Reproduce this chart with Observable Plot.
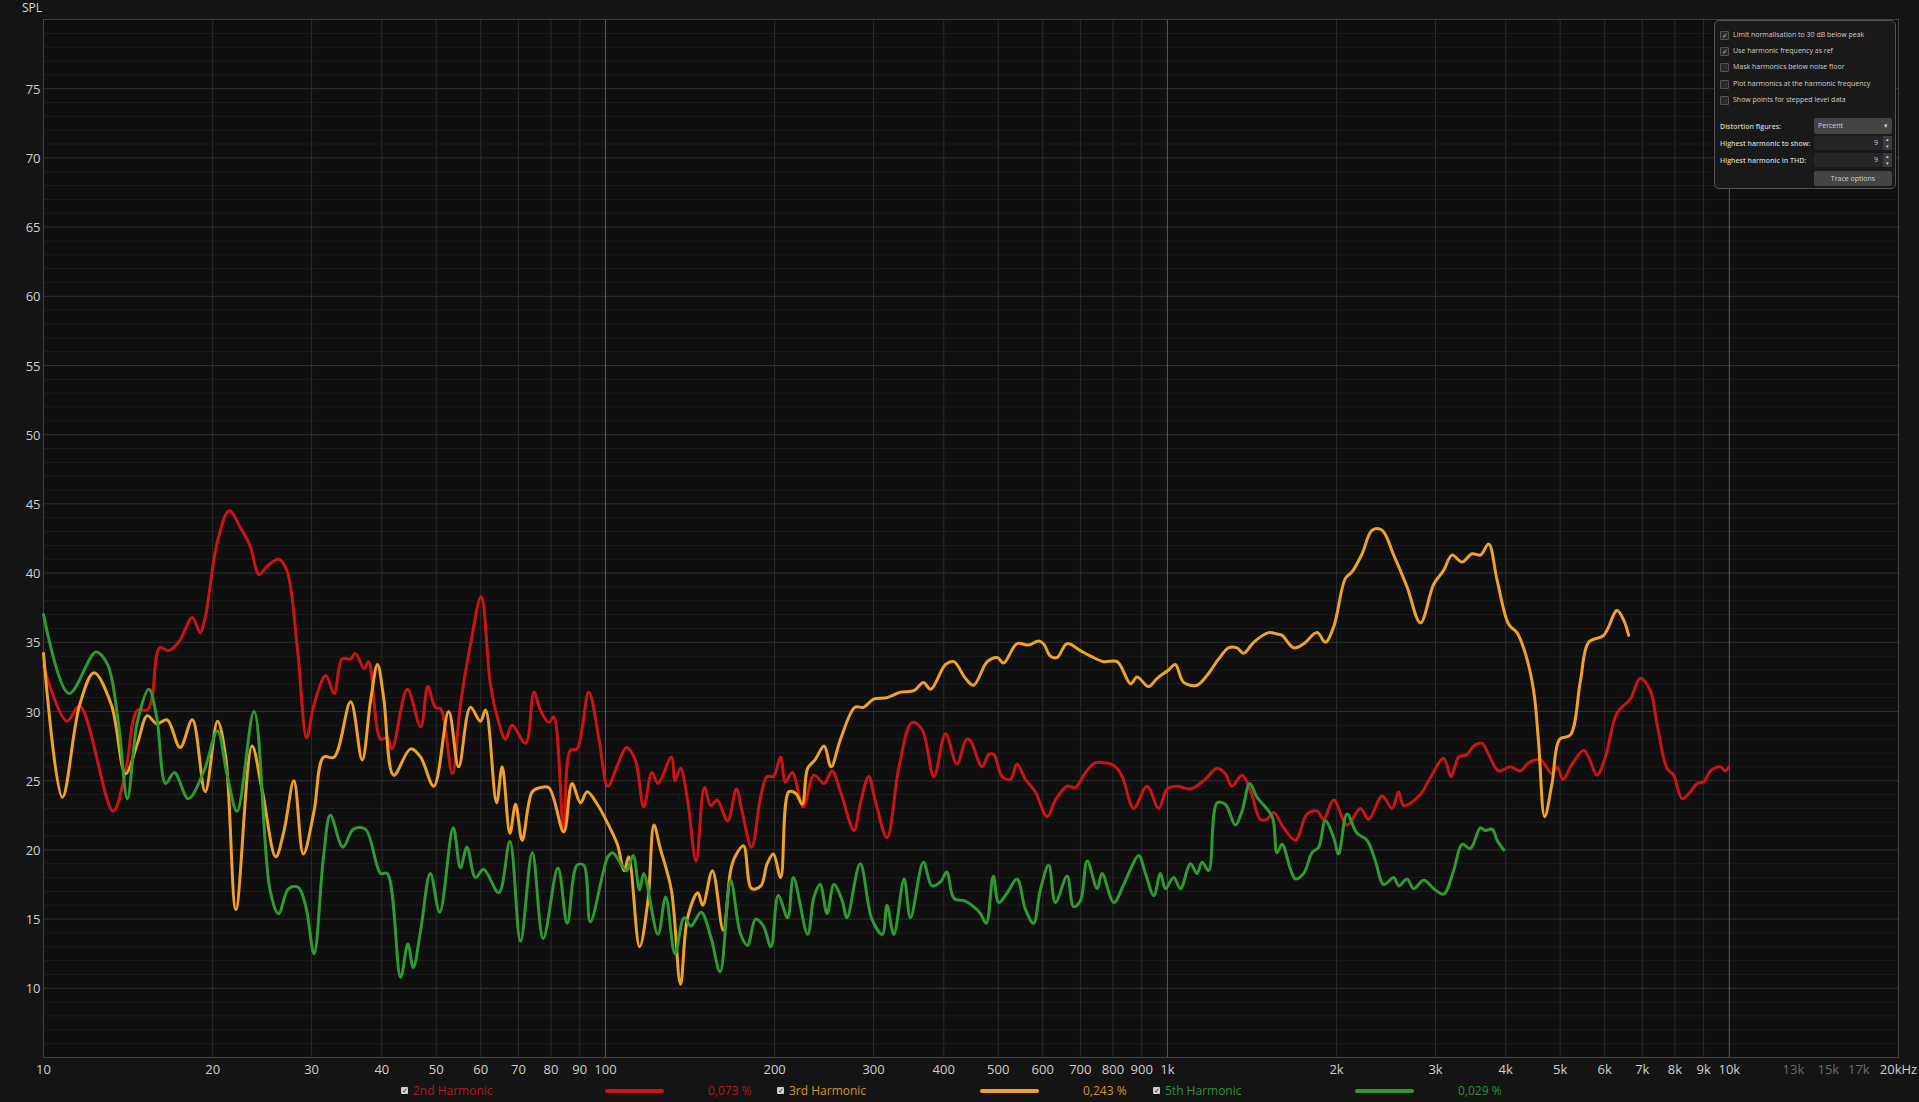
<!DOCTYPE html>
<html><head><meta charset="utf-8">
<script src="https://cdn.jsdelivr.net/npm/d3@7"></script>
<script src="https://cdn.jsdelivr.net/npm/@observablehq/plot@0.6"></script>
<style>
html,body{margin:0;padding:0;background:#141414;}
body{width:1919px;height:1102px;overflow:hidden;position:relative;font-family:"Open Sans","Noto Sans",sans-serif;}
#chart{position:absolute;left:0;top:0;}
#chart svg{display:block;}
#spl{position:absolute;left:22px;top:-1px;font-size:12px;color:#d8d8d8;}
.lg{position:absolute;top:1083px;font-size:12px;line-height:16px;white-space:nowrap;}
.cbx{position:absolute;top:1087px;width:7px;height:7px;background:#cfcfcf;border-radius:1px;font-size:7px;line-height:7px;color:#222;text-align:center;}
.sw{position:absolute;top:1089px;height:4px;border-radius:2px;}
#panel{position:absolute;left:1714px;top:20px;width:180px;height:167px;background:#191919;border:1px solid #555;border-radius:5px;font-size:7px;color:#cfcfcf;}
#panel .row{position:absolute;left:18px;height:10px;line-height:10px;white-space:nowrap;}
#panel .cb{position:absolute;left:-13px;top:1px;width:7px;height:7px;border:1px solid #555;background:#2a2a2a;border-radius:1px;font-size:7px;line-height:7px;color:#bbb;text-align:center;}
#panel .lab{position:absolute;left:5px;height:10px;line-height:10px;white-space:nowrap;font-weight:600;}
#panel .box{position:absolute;left:99px;width:78px;background:#252525;border-radius:2px;}
#panel .dd{background:#444;}
#panel .btn{background:#444;text-align:center;}
</style></head><body>
<div id="chart"></div>
<div id="spl">SPL</div>
<div id="legend"></div>
<div id="panel"></div>
<script>
// ---- data: [frequency Hz, SPL dB] ----
const h2 = [[10,33.3],[11.0,29.3],[11.6,30.4],[13.3,22.8],[14.0,25.7],[14.7,30.1],[15.3,30.1],[15.6,31.0],[16.1,34.6],[16.7,34.4],[17.4,35.0],[18.4,36.8],[19.0,35.7],[19.4,36.8],[20.4,42.3],[21.4,44.5],[22.4,43.3],[23.3,42.0],[24.2,39.9],[25.0,40.5],[26.2,41.0],[27.1,40.2],[28.3,34.6],[29.4,28.1],[30.3,30.5],[31.8,32.6],[32.9,31.3],[34.0,33.8],[35.2,33.8],[35.9,34.2],[37.2,33.1],[37.9,33.6],[39.8,28.0],[40.9,28.1],[41.7,27.3],[44.4,31.6],[46.9,28.9],[48.3,31.8],[49.8,30.3],[50.9,30.2],[53.4,25.5],[55.2,30.5],[57.5,34.8],[60.1,38.3],[62.4,32.0],[64.2,29.6],[66.4,28.0],[68.2,29.0],[72.1,27.7],[74.6,31.4],[76.6,30.1],[79.3,29.2],[80.9,29.6],[84.3,21.4],[86.6,27.2],[89.0,27.3],[93.4,31.4],[97.3,28.1],[101,24.6],[105,26.1],[109,27.4],[113,26.5],[117,23.1],[121,25.6],[124,24.8],[131,26.7],[133,25.0],[136,25.9],[140,23.6],[145,19.2],[150,24.5],[154,23.2],[158,23.6],[165,22.1],[171,24.4],[175,22.8],[182,20.2],[189,23.9],[194,25.3],[199,25.3],[205,26.7],[209,24.9],[215,25.6],[225,23.1],[235,25.4],[245,24.8],[253,25.7],[262,24.2],[277,21.4],[284,23.3],[294,25.3],[302,23.6],[317,20.9],[333,26.0],[351,29.2],[366,28.7],[384,25.3],[403,28.4],[422,26.2],[439,28.0],[446,27.9],[468,26.0],[481,26.9],[491,26.9],[508,25.3],[526,25.1],[540,26.2],[559,25.1],[582,24.2],[611,22.4],[632,23.6],[663,24.6],[686,24.5],[715,25.6],[745,26.3],[770,26.3],[803,26.1],[831,25.3],[871,23.0],[920,24.6],[965,23.0],[999,24.4],[1041,24.6],[1099,24.4],[1160,25.0],[1226,25.9],[1268,25.5],[1303,24.6],[1358,25.4],[1405,24.3],[1464,22.2],[1504,22.2],[1545,22.7],[1610,21.6],[1690,20.7],[1773,22.6],[1847,22.8],[1897,22.2],[1976,23.6],[2088,21.8],[2205,23.0],[2281,22.2],[2410,23.9],[2511,23.0],[2580,24.2],[2633,23.2],[2820,24.0],[2917,25.0],[3101,26.6],[3197,25.3],[3298,26.7],[3414,26.9],[3508,27.5],[3631,27.7],[3730,26.9],[3886,25.7],[4076,26.0],[4247,25.7],[4395,26.3],[4610,26.5],[4836,25.5],[4936,26.0],[5059,25.1],[5249,26.2],[5504,27.2],[5618,26.7],[5815,25.4],[6017,26.7],[6312,29.9],[6665,30.9],[6944,32.4],[7234,31.5],[7436,29.1],[7747,25.9],[7960,25.4],[8240,23.7],[8523,24.2],[8762,24.8],[9002,24.9],[9252,25.7],[9638,26.0],[9838,25.7],[9972,26.0]];
const h3 = [[10,34.2],[10.8,23.8],[11.6,30.5],[12.3,32.8],[13.2,30.5],[14.0,25.5],[14.7,27.7],[15.3,29.7],[15.9,29.1],[16.6,29.4],[17.5,27.4],[18.4,29.4],[19.4,24.2],[20.4,29.3],[21.1,26.7],[22.0,15.7],[23.5,27.5],[24.5,24.3],[25.9,19.5],[26.8,21.4],[27.9,25.0],[29.0,19.7],[30.3,22.8],[31.5,26.7],[32.9,26.7],[35.2,30.7],[36.9,26.5],[38.2,30.8],[39.3,33.4],[40.3,31.0],[42.0,25.4],[45.0,27.3],[46.9,26.7],[49.5,24.6],[52.6,30.0],[54.8,26.0],[57.5,30.3],[59.9,29.3],[61.2,30.1],[64.0,23.4],[65.5,26.0],[67.6,21.2],[69.2,23.3],[71.1,20.7],[74.1,24.2],[76.6,24.5],[79.3,24.5],[84.3,21.3],[87.2,24.8],[90.3,23.4],[92.8,24.2],[96.7,23.3],[101,21.9],[105,20.4],[108,18.5],[110,19.5],[115,13.0],[119,16.3],[122,21.8],[125,20.2],[131,17.1],[136,10.3],[140,15.1],[146,16.9],[149,16.0],[155,18.5],[162,14.2],[167,18.5],[170,19.5],[176,20.3],[182,17.2],[189,17.4],[194,19.0],[199,19.7],[205,18.0],[212,24.2],[218,24.1],[224,23.3],[229,25.9],[236,26.5],[245,27.5],[252,26.0],[262,28.0],[278,30.3],[288,30.3],[300,30.9],[317,31.0],[335,31.4],[354,31.5],[368,32.1],[379,31.6],[403,33.4],[417,33.6],[437,32.4],[452,31.9],[478,33.6],[498,33.9],[511,33.5],[540,34.9],[567,34.8],[590,35.1],[602,34.9],[619,34.0],[636,33.9],[663,34.9],[700,34.4],[730,34.0],[770,33.6],[814,33.6],[860,32.0],[883,32.5],[926,31.8],[959,32.4],[1005,33.0],[1033,33.4],[1069,32.1],[1129,31.9],[1176,32.6],[1234,33.8],[1285,34.6],[1330,34.6],[1367,34.2],[1424,35.0],[1514,35.7],[1567,35.6],[1600,35.5],[1678,34.6],[1748,34.9],[1847,35.7],[1910,35.0],[1976,36.1],[2073,39.6],[2132,40.1],[2221,41.4],[2314,43.1],[2410,43.1],[2528,41.3],[2670,39.0],[2820,36.4],[2978,39.2],[3101,40.2],[3210,41.3],[3345,40.8],[3485,41.4],[3606,41.3],[3730,42.1],[3861,39.5],[4049,36.3],[4190,35.7],[4335,34.2],[4485,31.5],[4578,27.7],[4692,22.4],[4836,24.8],[4989,28.0],[5213,28.3],[5432,32.2],[5618,35.0],[5975,35.5],[6312,37.3],[6486,36.6],[6620,35.5]];
const h5 = [[10,37.0],[11.1,31.3],[12.4,34.3],[13.0,33.4],[13.6,29.1],[14.1,23.7],[14.7,29.3],[15.4,31.6],[15.9,29.6],[16.5,24.8],[17.1,25.6],[18.1,23.7],[19.3,25.7],[20.4,28.6],[21.2,25.5],[22.1,22.8],[23.7,30.0],[25.3,17.1],[26.2,15.4],[27.3,17.2],[28.4,17.3],[29.3,15.9],[30.3,12.5],[31.5,19.5],[32.4,22.5],[34.1,20.2],[35.6,21.5],[37.4,21.5],[39.8,18.3],[40.9,18.3],[43.2,10.8],[44.5,13.2],[45.5,11.5],[46.9,14.2],[48.8,18.3],[50.7,15.5],[53.6,21.6],[55.2,18.7],[56.7,20.2],[58.7,18.0],[60.7,18.6],[64.6,16.9],[67.6,20.6],[70.6,13.4],[74.1,19.8],[77.5,13.6],[82.3,18.7],[85.5,14.7],[89.0,18.9],[91.5,18.9],[94.0,14.8],[101,19.5],[103,19.8],[109,18.5],[112,19.6],[115,17.1],[117,18.3],[124,13.9],[128,16.6],[133,12.5],[138,15.1],[142,14.5],[148,15.5],[154,13.7],[160,11.2],[167,17.8],[174,13.9],[179,13.1],[185,15.0],[191,14.5],[197,13.0],[203,16.7],[211,15.1],[216,18.0],[229,13.9],[235,16.6],[241,17.5],[248,15.4],[255,17.5],[264,16.3],[269,15.1],[284,19.0],[298,15.0],[311,13.9],[317,16.0],[326,13.9],[340,17.9],[349,15.1],[368,19.1],[381,17.4],[395,17.7],[405,18.4],[417,16.5],[437,16.3],[452,15.9],[465,15.4],[476,14.7],[490,18.1],[501,16.2],[519,16.9],[540,17.9],[559,15.7],[578,14.7],[594,17.1],[615,18.9],[632,16.2],[663,18.1],[681,15.9],[700,16.3],[720,19.2],[750,17.2],[765,18.3],[803,16.2],[836,17.5],[860,18.6],[889,19.6],[914,18.3],[946,16.7],[972,18.3],[992,17.2],[1026,18.0],[1055,17.2],[1099,19.0],[1129,18.3],[1153,19.1],[1184,18.5],[1226,23.4],[1268,23.3],[1321,21.8],[1358,22.8],[1401,24.8],[1444,23.8],[1536,22.4],[1567,19.8],[1600,20.4],[1656,18.6],[1690,17.9],[1748,18.3],[1809,19.8],[1859,20.2],[1910,22.1],[1976,20.9],[2017,19.7],[2088,22.6],[2175,21.2],[2266,20.7],[2345,19.2],[2426,17.5],[2528,18.0],[2580,17.4],[2670,17.9],[2743,17.2],[2858,17.8],[2978,17.2],[3101,16.8],[3231,18.5],[3345,20.4],[3460,20.1],[3606,21.6],[3681,21.4],[3784,21.5],[3861,20.7],[3967,20.0]];

const seriesNames = ["2nd Harmonic","3rd Harmonic","5th Harmonic"];
const seriesValues = ["0,073 %","0,243 %","0,029 %"];
const seriesColors = ["#cc1414","#eea22a","#2f9a2f"];
const labelColors = ["#b51a1a","#d49426","#2f932f"];

const xTickValues = [10,20,30,40,50,60,70,80,90,100,200,300,400,500,600,700,800,900,1000,2000,3000,4000,5000,6000,7000,8000,9000,10000,20000];
const xDimTickValues = [13000,15000,17000];
const yTickValues = [10,15,20,25,30,35,40,45,50,55,60,65,70,75];

const decadeLines = [100,1000,10000];
const freqGrid = [];
for (const base of [10,100,1000,10000]) for (let m = 1; m <= 9; m++) { const f = base*m; if (f > 10 && f < 20000 && !decadeLines.includes(f)) freqGrid.push(f); }
const minorDb = d3.range(6,80).filter(v => v % 5 !== 0);
const majorDb = d3.range(10,80,5);

const fmtF = f => f === 20000 ? "20kHz" : f >= 1000 ? (f/1000) + "k" : String(f);

const chart = Plot.plot({
  width: 1919, height: 1080,
  marginLeft: 43, marginRight: 21, marginTop: 19, marginBottom: 23,
  x: {type: "log", domain: [10, 20000], axis: null},
  y: {domain: [5, 80], axis: null},
  style: {background: "transparent", fontFamily: "'Open Sans','Noto Sans',sans-serif", overflow: "visible"},
  marks: [
    Plot.frame({fill: "#0f0f0f", stroke: null}),
    Plot.ruleY(minorDb, {stroke: "#1d1d1d"}),
    Plot.ruleY(majorDb, {stroke: "#303030"}),
    Plot.ruleX(freqGrid, {stroke: "#2b2b2b"}),
    Plot.ruleX(decadeLines, {stroke: "#5c5c5c"}),
    Plot.frame({stroke: "#404040"}),
    Plot.line(h2, {x: d => d[0], y: d => d[1], stroke: seriesColors[0], strokeWidth: 3, curve: "catmull-rom"}),
    Plot.line(h3, {x: d => d[0], y: d => d[1], stroke: seriesColors[1], strokeWidth: 3, curve: "catmull-rom"}),
    Plot.line(h5, {x: d => d[0], y: d => d[1], stroke: seriesColors[2], strokeWidth: 3, curve: "catmull-rom"}),
    Plot.text(yTickValues, {y: d => d, frameAnchor: "left", textAnchor: "end", dx: -3, dy: 1, text: d => String(d), fill: "#d0d0d0", fontSize: 13}),
    Plot.text(xTickValues, {x: d => d, frameAnchor: "bottom", dy: 16, text: fmtF, fill: "#d0d0d0", fontSize: 13}),
    Plot.text(xDimTickValues, {x: d => d, frameAnchor: "bottom", dy: 16, text: fmtF, fill: "#6a6a6a", fontSize: 13})
  ]
});
document.getElementById("chart").appendChild(chart);

// legend
const legend = document.getElementById("legend");
const cbLeft = [401, 777, 1153], txtLeft = [413, 789, 1165], swLeft = [605, 980, 1355], valLeft = [708, 1083, 1458];
seriesNames.forEach((n, i) => {
  legend.insertAdjacentHTML("beforeend",
    `<div class="cbx" style="left:${cbLeft[i]}px">✓</div>` +
    `<div class="lg" style="left:${txtLeft[i]}px;color:${labelColors[i]}">${n}</div>` +
    `<div class="sw" style="left:${swLeft[i]}px;width:59px;background:${seriesColors[i]}"></div>` +
    `<div class="lg" style="left:${valLeft[i]}px;color:${labelColors[i]}">${seriesValues[i]}</div>`);
});

// options panel
const panelChecks = [["Limit normalisation to 30 dB below peak", true],["Use harmonic frequency as ref", true],["Mask harmonics below noise floor", false],["Plot harmonics at the harmonic frequency", false],["Show points for stepped level data", false]];
const panel = document.getElementById("panel");
panelChecks.forEach(([t, on], i) => {
  panel.insertAdjacentHTML("beforeend", `<div class="row" style="top:${9 + i*16.2}px"><span class="cb">${on ? "✓" : ""}</span>${t}</div>`);
});
panel.insertAdjacentHTML("beforeend",
  `<div class="lab" style="top:101px">Distortion figures:</div>` +
  `<div class="box dd" style="top:97px;height:16px;line-height:16px;"><span style="padding-left:4px">Percent</span><span style="position:absolute;right:4px;">▾</span></div>` +
  `<div class="lab" style="top:118px">Highest harmonic to show:</div>` +
  `<div class="box" style="top:115px;height:14px;line-height:14px;"><span style="position:absolute;right:14px;">9</span><span style="position:absolute;right:0;top:0;width:9px;height:14px;background:#3c3c3c;font-size:5px;line-height:7px;text-align:center;">▴<br>▾</span></div>` +
  `<div class="lab" style="top:135px">Highest harmonic in THD:</div>` +
  `<div class="box" style="top:132px;height:14px;line-height:14px;"><span style="position:absolute;right:14px;">9</span><span style="position:absolute;right:0;top:0;width:9px;height:14px;background:#3c3c3c;font-size:5px;line-height:7px;text-align:center;">▴<br>▾</span></div>` +
  `<div class="box btn" style="top:150px;height:15px;line-height:15px;">Trace options</div>`);
</script>
</body></html>
